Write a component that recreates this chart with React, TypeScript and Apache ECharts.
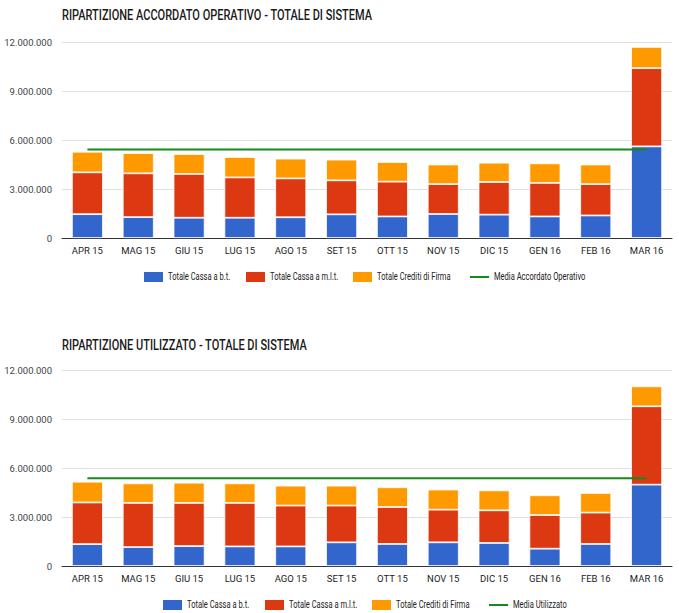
import React, { useEffect, useRef } from "react";
import * as echarts from "echarts";

const categories = ["APR 15", "MAG 15", "GIU 15", "LUG 15", "AGO 15", "SET 15", "OTT 15", "NOV 15", "DIC 15", "GEN 16", "FEB 16", "MAR 16"];

// Chart 1: Accordato Operativo
const accCassaBt = [1460000, 1280000, 1240000, 1240000, 1270000, 1450000, 1320000, 1470000, 1430000, 1320000, 1380000, 5610000];
const accCassaMlt = [2560000, 2680000, 2680000, 2470000, 2380000, 2080000, 2130000, 1830000, 2000000, 2050000, 1920000, 4790000];
const accCrediti = [1260000, 1240000, 1220000, 1250000, 1210000, 1270000, 1200000, 1200000, 1180000, 1200000, 1200000, 1300000];
const accMedia = [5420000, 5420000, 5420000, 5420000, 5420000, 5420000, 5420000, 5420000, 5420000, 5420000, 5420000, 5420000];

// Chart 2: Utilizzato
const utiCassaBt = [1340000, 1160000, 1220000, 1200000, 1200000, 1450000, 1350000, 1450000, 1410000, 1060000, 1350000, 4980000];
const utiCassaMlt = [2550000, 2700000, 2640000, 2660000, 2500000, 2250000, 2260000, 2000000, 2000000, 2060000, 1920000, 4800000];
const utiCrediti = [1270000, 1200000, 1240000, 1200000, 1220000, 1220000, 1210000, 1230000, 1220000, 1210000, 1200000, 1220000];
const utiMedia = [5380000, 5380000, 5380000, 5380000, 5380000, 5380000, 5380000, 5380000, 5380000, 5380000, 5380000, 5380000];

const yTicks = { min: 0, max: 12000000, interval: 3000000 };

const titles = ["RIPARTIZIONE ACCORDATO OPERATIVO - TOTALE DI SISTEMA", "RIPARTIZIONE UTILIZZATO - TOTALE DI SISTEMA"];
const seriesNames = ["Totale Cassa a b.t.", "Totale Cassa a m.l.t.", "Totale Crediti di Firma"];
const mediaNames = ["Media Accordato Operativo", "Media Utilizzato"];

const FONT = "Roboto, 'Noto Sans', sans-serif";
const COLORS = ["#3366cc", "#dc3912", "#ff9900", "#16891c"];

const fmt = (v: number) => String(Math.round(v)).replace(/\B(?=(\d{3})+(?!\d))/g, ".");

export default function App() {
  const ref = useRef<HTMLDivElement>(null);
  useEffect(() => {
    if (!ref.current) return;
    const chart = echarts.init(ref.current, undefined, { renderer: "svg" });
    const gridTops = [42, 370];
    const titleYs = [15, 345];
    const legendYs = [277, 605];
    const legendXs = [
      [144, 246, 353, 470],
      [163, 265, 372, 489],
    ];
    const datasets = [
      [accCassaBt, accCassaMlt, accCrediti, accMedia],
      [utiCassaBt, utiCassaMlt, utiCrediti, utiMedia],
    ];
    const series: any[] = [];
    datasets.forEach((ds, gi) => {
      for (let s = 0; s < 3; s++) {
        series.push({
          type: "bar",
          name: seriesNames[s],
          xAxisIndex: gi,
          yAxisIndex: gi,
          stack: "tot" + gi,
          data: ds[s],
          barCategoryGap: "39%",
          itemStyle: { color: COLORS[s], borderColor: "#ffffff", borderWidth: 0.8 },
        });
      }
      series.push({
        type: "line",
        name: mediaNames[gi],
        xAxisIndex: gi,
        yAxisIndex: gi,
        data: ds[3],
        symbol: "none",
        lineStyle: { color: COLORS[3], width: 2 },
        itemStyle: { color: COLORS[3] },
      });
    });

    const graphics: any[] = [];
    titles.forEach((t, i) => {
      graphics.push({
        type: "text",
        x: 62,
        y: titleYs[i],
        scaleX: 0.71,
        scaleY: 1,
        style: { text: t, fontFamily: FONT, fontSize: 15.5, fontWeight: 500, fill: "#1a1a1a", verticalAlign: "middle", align: "left" },
      });
    });
    [0, 1].forEach((gi) => {
      const names = [seriesNames[0], seriesNames[1], seriesNames[2], mediaNames[gi]];
      names.forEach((name, k) => {
        const x0 = legendXs[gi][k];
        const cy = legendYs[gi];
        if (k < 3) {
          graphics.push({ type: "rect", shape: { x: x0, y: cy - 5, width: 19, height: 10 }, style: { fill: COLORS[k] } });
        } else {
          graphics.push({ type: "line", shape: { x1: x0, y1: cy, x2: x0 + 19, y2: cy }, style: { stroke: COLORS[3], lineWidth: 2 } });
        }
        graphics.push({
          type: "text",
          x: x0 + 24,
          y: cy,
          scaleX: 0.72,
          scaleY: 1,
          style: { text: name, fontFamily: FONT, fontSize: 10.5, fill: "#222222", verticalAlign: "middle", align: "left" },
        });
      });
    });

    chart.setOption({
      animation: false,
      backgroundColor: "#ffffff",
      textStyle: { fontFamily: FONT },
      graphic: graphics,
      grid: gridTops.map((t) => ({ left: 62, right: 7, top: t, height: 196 })),
      xAxis: [0, 1].map((i) => ({
        type: "category",
        gridIndex: i,
        data: categories,
        axisTick: { show: false },
        axisLine: { lineStyle: { color: "#333333", width: 1 } },
        axisLabel: { fontFamily: FONT, fontSize: 9.5, color: "#222222", margin: 7 },
      })),
      yAxis: [0, 1].map((i) => ({
        type: "value",
        gridIndex: i,
        min: yTicks.min,
        max: yTicks.max,
        interval: yTicks.interval,
        axisLabel: { fontFamily: FONT, fontSize: 9.5, color: "#444444", margin: 10, formatter: (v: number) => fmt(v) },
        splitLine: { lineStyle: { color: "#e0e0e0", width: 1 } },
        axisLine: { show: false },
        axisTick: { show: false },
      })),
      series,
    });
    return () => chart.dispose();
  }, []);
  return <div ref={ref} style={{ position: "absolute", left: 0, top: 0, width: 679, height: 613 }} />;
}
